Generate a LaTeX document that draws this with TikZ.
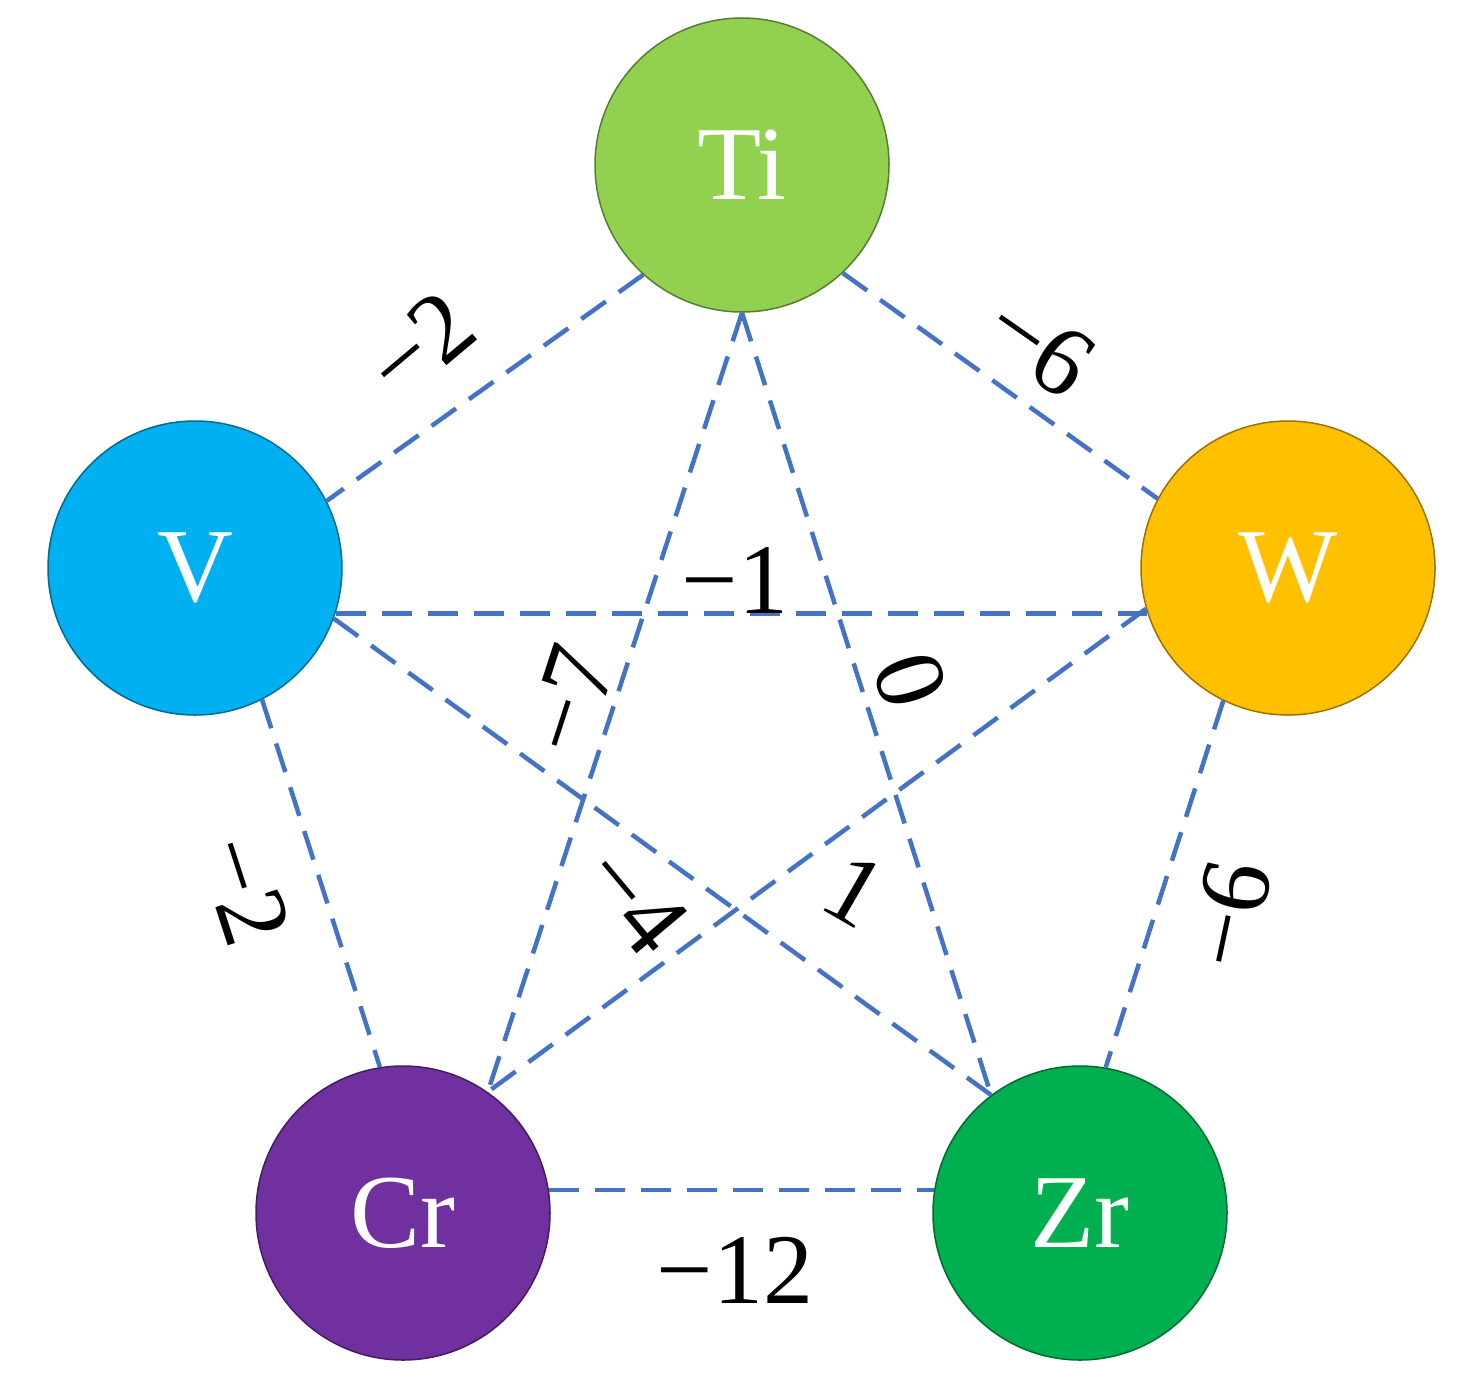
\documentclass[tikz,border=0pt]{standalone}
\usepackage{fontspec}
\setmainfont{Liberation Serif}
\definecolor{cTi}{HTML}{92D050}
\definecolor{cV}{HTML}{00B0F0}
\definecolor{cW}{HTML}{FFC000}
\definecolor{cCr}{HTML}{7030A0}
\definecolor{cZr}{HTML}{00B050}
\definecolor{edge}{HTML}{4472C4}
\begin{document}
\begin{tikzpicture}[x=1pt,y=-1pt,
  elem/.style={circle,minimum size=294pt,inner sep=0pt,line width=1.5pt,text=white,font=\fontsize{105}{105}\selectfont},
  link/.style={edge,line width=4.5pt,dash pattern=on 30pt off 16pt},
  lab/.style={font=\fontsize{100}{100}\selectfont,inner sep=0pt}]
\useasboundingbox (0,0) rectangle (1471,1397);
\node[elem,fill=cTi,draw=cTi!60!black] (Ti) at (742,165) {Ti};
\node[elem,fill=cV,draw=cV!60!black] (V) at (195,568) {V};
\node[elem,fill=cW,draw=cW!60!black] (W) at (1288,568) {W};
\node[elem,fill=cCr,draw=cCr!60!black] (Cr) at (403,1213) {Cr};
\node[elem,fill=cZr,draw=cZr!60!black] (Zr) at (1080,1213) {Zr};
\draw[link] (Ti.228) -- (V.27);
\draw[link] (Ti.-47.5) -- (W.152);
\draw[link] (V.-18) -- (W.198.5);
\draw[link] (V.-20) -- (Zr.127);
\draw[link] (W.196) -- (Cr.55);
\draw[link] (Ti.south) -- (Cr.55);
\draw[link] (Ti.south) -- (Zr.127);
\draw[link] (V.-63) -- (Cr.99);
\draw[link] (W.244) -- (Zr.80);
\draw[link] (Cr.9) -- (Zr.171);
\node[lab,rotate=40] (l1) at (420,345) {−2};
\node[lab,rotate=-35] (l2) at (1040,345) {−6};
\node[lab] (l3) at (735,580) {−1};
\node[lab,rotate=72] (l4) at (570,700) {−7};
\node[lab,rotate=-72] (l5) at (910,680) {0};
\node[lab,rotate=-50] (l6) at (635,900) {−4};
\node[lab,rotate=-30] (l7) at (855,890) {1};
\node[lab,rotate=-72] (l8) at (245,890) {−2};
\node[lab,rotate=78] (l9) at (1230,915) {−6};
\node[lab] (l10) at (735,1270) {−12};
\end{tikzpicture}
\end{document}
